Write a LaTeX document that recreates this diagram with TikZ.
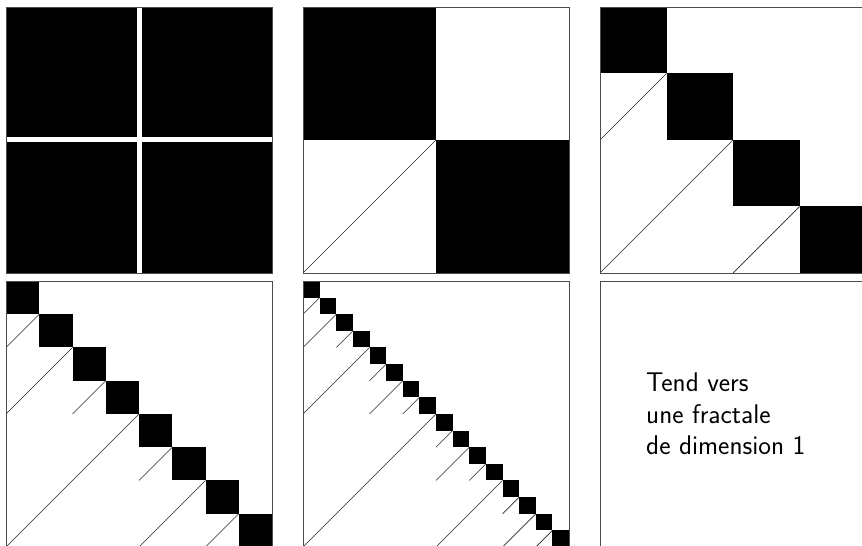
\documentclass[tikz,border=0pt]{standalone}
\usepackage{tikz}
\tikzset{
  fl/.style={line width=0.7pt, draw=black!85},
  frame/.style={line width=0.8pt, draw=black!70},
  blk/.style={fill=black},
  txt/.style={font=\sffamily\fontsize{27}{31.5}\selectfont, align=left, inner sep=0pt}
}
\newcommand\fracpanel[3]{%
  \pgfmathtruncatemacro\NN{2^#3}%
  \foreach \i in {1,...,\NN} {%
    \fill[blk] ({#1+(\i-1)*266/\NN}, {#2+266-\i*266/\NN}) rectangle ++({266/\NN},{266/\NN});
  }%
  \foreach \k in {1,...,#3} {%
    \pgfmathsetmacro\hh{266/2^(\k-1)}%
    \pgfmathtruncatemacro\MM{2^(\k-1)}%
    \foreach \j in {1,...,\MM} {%
      \draw[fl] ({#1+(\j-1)*\hh}, {#2+266-\j*\hh}) -- ++({\hh/2},{\hh/2});
    }%
  }%
  \draw[frame] (#1,#2) rectangle ++(266,266);
}
\begin{document}
\begin{tikzpicture}[x=1pt,y=1pt]
  \useasboundingbox (0,0) rectangle (862,546);
  \clip (0,0) rectangle (862,546);
  % panel 1
  \fill[blk] (6,273) rectangle (136.5,403.5);
  \fill[blk] (141.5,273) rectangle (272,403.5);
  \fill[blk] (6,408.5) rectangle (136.5,539);
  \fill[blk] (141.5,408.5) rectangle (272,539);
  \draw[frame] (6,273) rectangle ++(266,266);
  % panels 2-5
  \fracpanel{303}{273}{1}
  \fracpanel{600}{273}{2}
  \fracpanel{6}{-1}{3}
  \fracpanel{303}{-1}{4}
  % panel 6
  \draw[frame] (600,-1) rectangle ++(266,266);
  \node[txt, anchor=base west] (label) at (646,91.3) {Tend vers\\une fractale\\de dimension 1};
\end{tikzpicture}
\end{document}
